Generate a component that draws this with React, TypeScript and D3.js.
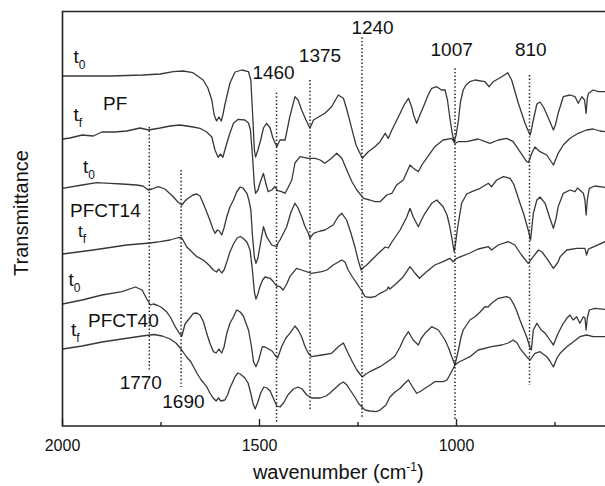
import React from "react";
import * as d3 from "d3";

type Pt = [number, number];

// wavenumber (cm-1), transmittance (offset a.u.)
const PF_t0: Pt[] = [
  [2000,350],[1879,350],[1796,351],[1752,352],[1719,354.3],[1694,355],[1669,353.3],[1643,346],[1631,338],[1621,326],
  [1615,311],[1609,305],[1603,309],[1597,305],[1593,311],[1588,321],[1575,343],[1562,354],[1545,356],[1528,354.3],
  [1522,346],[1518,316],[1513,276],[1510,269],[1504,276],[1497,286],[1490,298],[1482,302.7],[1473,298],[1466,288],
  [1456,279.3],[1448,286],[1435,286],[1423,309.3],[1410,329.3],[1402,326],[1393,316],[1382,306],[1372,297.7],[1363,306],
  [1346,310],[1334,312.7],[1317,319.3],[1300,331],[1287,327.7],[1278,316],[1266,297.7],[1255,281],[1245,272.7],[1239,267.7],
  [1224,274.3],[1207,279.3],[1194,284.3],[1181,292.7],[1173,287.7],[1164,296],[1143,312.7],[1133,321],[1122,327.7],[1114,319.3],
  [1108,310],[1101,302.7],[1093,311],[1084,319.3],[1072,331],[1063,337.7],[1050,339.3],[1038,336],[1029,336],[1023,326],
  [1016,306],[1011,293],[1006,284.3],[1001,291],[995,306],[990,324],[983,336],[976,341],[966,344.3],[953,346],
  [928,344.3],[917,339.3],[907,344.3],[885,349.3],[870,353.3],[860,346],[843,322.7],[826,302.7],[819,296],[813,291],
  [809,298],[805,306],[796,322],[788,324],[778,318],[768,309],[754,296],[749,301],[742,312.7],[729,329.3],
  [712,331],[699,329.3],[691,322.7],[682,329.3],[675,326],[671,312.7],[668,328],[665,332.7],[653,336],[640,334.3],
  [623,334.3],[600,334],
];

const PF_tf: Pt[] = [
  [2000,287],[1981,288],[1950,291],[1922,290],[1900,294],[1867,294],[1837,295],[1803,298],[1782,296],[1752,298],
  [1727,300],[1702,301],[1685,300],[1668,299],[1651,297.7],[1634,294],[1621,289],[1613,276],[1605,268.7],[1599,272],
  [1593,268.7],[1583,282.7],[1575,293],[1566,302.7],[1554,306.7],[1537,306],[1528,303],[1523,296],[1518,271],[1513,241],
  [1510,232.7],[1504,236],[1499,242.7],[1490,252.7],[1484,242.7],[1478,234.3],[1469,236],[1461,239.3],[1454,235.3],[1444,234.3],
  [1435,232.7],[1428,238],[1418,246],[1410,263],[1397,269.3],[1376,267.7],[1359,267.7],[1346,266],[1334,262.7],[1317,267.7],
  [1304,272.7],[1291,267.7],[1275,252.7],[1265,244],[1253,236],[1236,227.7],[1220,226],[1207,224.3],[1194,224.3],[1177,231],
  [1164,232.7],[1152,241],[1135,246],[1126,254],[1118,261],[1110,258],[1097,254.3],[1088,261],[1076,267.7],[1055,279.3],
  [1034,286],[1012,287.7],[1004,282.5],[996,284.3],[974,284.3],[945,287],[915,282.7],[894,286],[873,287.7],[856,284.3],
  [839,274.3],[822,264.3],[817,263.7],[809,272.7],[801,279],[788,274.3],[771,271],[754,261],[742,272.7],[729,281],
  [712,287.7],[691,292.7],[670,296],[653,297],[636,295],[623,294.3],[600,294],
];

const PFCT14_t0: Pt[] = [
  [2000,237.7],[1950,241],[1913,243.3],[1879,242.7],[1849,242],[1812,241],[1796,240],[1782,236],[1773,237],[1757,239.3],
  [1740,237],[1719,229.3],[1707,224],[1697,221],[1689,225],[1681,227.7],[1669,231],[1659,232],[1651,230],[1643,222.7],
  [1633,213],[1626,206],[1618,197],[1613,192.7],[1607,196],[1602,195],[1596,191],[1590,198],[1583,209.3],[1575,219],
  [1566,226],[1558,234],[1549,239],[1542,238],[1532,232.7],[1527,226],[1522,216],[1518,191],[1513,169],[1509,162.7],
  [1504,168],[1499,179.3],[1490,199.3],[1482,189.3],[1469,181],[1456,179.3],[1453,183],[1448,186],[1431,199.3],[1420,214],
  [1410,222.7],[1402,218],[1393,209.3],[1385,200],[1376,192.7],[1372,187.7],[1363,192.7],[1346,195],[1334,196],[1313,201],
  [1301,209],[1291,212.7],[1279,206],[1268,193],[1258,179.3],[1249,165],[1242,156],[1235,159],[1228,161],[1207,169.3],
  [1194,174.3],[1181,179],[1173,178],[1164,184],[1143,196],[1126,209.3],[1118,217.7],[1110,209.3],[1097,199.3],[1089,206],
  [1080,212.7],[1063,222.7],[1050,226],[1034,219.3],[1024,211],[1017,199.3],[1011,186],[1006,174.3],[1003,181],[998,196],
  [992,211],[987,222.7],[974,232],[961,234.3],[940,237.7],[919,242.7],[911,239.3],[898,246],[881,249.3],[864,247.7],
  [855,242],[847,232.7],[839,223],[830,212.7],[818,196],[812,186],[805,212.7],[796,226],[788,229],[775,222.7],
  [763,207.7],[754,197.7],[747,208],[742,219.3],[729,232.7],[712,236],[699,234.3],[693,238],[687,236],[678,232.7],
  [674,226],[671,211],[668,226],[663,237.7],[649,240],[623,238.7],[600,238.5],
];

const PFCT14_tf: Pt[] = [
  [2000,172],[1922,176],[1837,181],[1778,183],[1752,184.3],[1727,186],[1706,188.5],[1697,188],[1685,179.3],[1674,175],
  [1659,169.3],[1643,166],[1634,163],[1626,160],[1617,156],[1609,154],[1603,157],[1596,153],[1590,156],[1583,164],
  [1575,174],[1566,182],[1557,188],[1549,189.5],[1541,187.5],[1532,184],[1524,176],[1518,156],[1513,134],[1509,127],
  [1504,132],[1499,139.3],[1492,146],[1486,149],[1473,147.7],[1464,144],[1457,140],[1448,139.3],[1440,136],[1431,142],
  [1423,149.3],[1406,157.7],[1393,156],[1368,152.7],[1342,154.3],[1329,156],[1313,161],[1291,166],[1283,164],[1275,156],
  [1264,149],[1253,142.7],[1242,136],[1232,129.3],[1220,128.5],[1207,129.3],[1194,132.7],[1177,136],[1173,139],[1169,137],
  [1152,142.7],[1135,149.3],[1118,159.3],[1105,152.7],[1094,147.7],[1076,154.3],[1055,161],[1034,164.3],[1017,167.7],[1008,164.3],
  [1000,167.7],[966,173],[945,177],[919,179.3],[911,176],[894,181],[869,184.3],[852,181],[835,171],[818,162.7],
  [805,169.3],[792,176],[783,174],[771,167.7],[754,157.7],[742,164],[737,169.3],[720,176],[695,177.7],[674,177.7],
  [670,171],[665,177],[661,177.7],[623,184.3],[600,185],
];

const PFCT40_t0: Pt[] = [
  [2000,122],[1950,126],[1900,131],[1849,134.3],[1815,139],[1798,136],[1786,127],[1777,121],[1770,122],[1761,121],
  [1750,119],[1736,114.3],[1725,108],[1714,99.3],[1704,93],[1697,90],[1689,102],[1681,106],[1668,112.7],[1659,113],
  [1651,111],[1642,104],[1634,92.7],[1626,83],[1617,74.3],[1610,73],[1603,77],[1596,73],[1590,79],[1583,92.7],
  [1575,102.7],[1566,109.3],[1558,116],[1549,114],[1541,110],[1528,96],[1521,81],[1515,64],[1509,59.3],[1502,66],
  [1493,79.3],[1486,79],[1477,77],[1468,75],[1461,71],[1454,68],[1444,79.3],[1433,88],[1423,92.7],[1410,100],
  [1402,96],[1393,89.3],[1385,80],[1376,72.7],[1368,69.3],[1342,71],[1317,72.7],[1300,79.3],[1287,83],[1275,72.7],
  [1264,64],[1253,56],[1239,49],[1230,52],[1220,54.3],[1194,59.3],[1169,66],[1156,70],[1143,79.3],[1133,88],
  [1122,94.3],[1110,86],[1097,81],[1089,88],[1080,92.7],[1063,99.3],[1046,96],[1029,86],[1020,78],[1012,69.3],
  [1004,61],[995,76],[989,88],[983,96],[966,106],[953,109.3],[940,114],[928,119.3],[920,119],[911,122.7],
  [894,127.7],[873,129.3],[864,128],[856,122.7],[847,115],[839,106],[822,89.3],[813,78],[810,76],[805,96],
  [796,102.7],[785,96],[775,92.7],[763,86],[754,81],[747,88],[742,92.7],[729,102.7],[720,107.7],[712,111],
  [704,106],[695,109.3],[687,102.7],[678,109.3],[674,108],[671,96],[668,108],[663,116],[649,117.7],[623,116.7],
  [600,116.5],
];

const PFCT40_tf: Pt[] = [
  [2000,77],[1950,80],[1900,84],[1849,87],[1798,90],[1768,91.5],[1747,90],[1727,87],[1712,83],[1699,77],
  [1685,69],[1674,64],[1659,53],[1648,46],[1634,39.3],[1626,33],[1617,27.7],[1610,25],[1604,28],[1598,25],
  [1588,26],[1581,31],[1575,38],[1562,49.3],[1555,53],[1549,52],[1537,48],[1529,43],[1523,34],[1516,22],
  [1511,17],[1505,23],[1497,33],[1489,39],[1481,38],[1473,35],[1464,27],[1456,20],[1448,19],[1439,23],
  [1428,31],[1414,37],[1402,39],[1392,37],[1380,31],[1367,28],[1346,28],[1331,30],[1321,33],[1308,37.7],
  [1296,42],[1287,44],[1278,41],[1270,36],[1258,29],[1249,22.7],[1240,19],[1232,16],[1220,15],[1204,14.3],
  [1194,16],[1179,21],[1169,29],[1156,34],[1143,37.7],[1133,42],[1122,46],[1113,40],[1101,32.7],[1090,35],
  [1080,37.7],[1067,41],[1055,44.3],[1034,44.3],[1024,46],[1017,51],[1009,57],[1004,61],[994,64],[983,66],
  [966,69.3],[945,76],[911,79.3],[885,81],[869,83],[856,86],[846,83],[839,77.7],[822,69.3],[813,66],
  [801,72.7],[788,74.3],[771,69.3],[763,65],[754,59],[745,68],[737,72.7],[720,79.3],[703,84.3],[687,89.3],
  [670,91],[653,89.3],[623,89.3],[600,89.5],
];

// peak markers: label, drawn wavenumber, y from / to
const markerLabels = ["1770", "1690", "1460", "1375", "1240", "1007", "810"];
const markerPos = [1779.7, 1699, 1456.8, 1371.8, 1239.8, 1003.8, 814.7];
const markerTop = [299, 256, 333.3, 346, 388.7, 357.7, 351];
const markerBottom = [56, 39, 3, 16, 9, 6, 41];

const majorTicks = [2000, 1500, 1000];
const minorTicks = [1750, 1250, 750];

const W = 605, H = 486;
const left = 62.5, top = 11.5, bottom = 426, right = 614.1;
const FONT = "'Liberation Sans', Arial, Helvetica, sans-serif";

// layout for texts (pixels)
const markerLabelLayout: Record<string, { dx: number; y: number }> = {
  "1770": { dx: -8.5, y: 389 },
  "1690": { dx: 2.3, y: 408 },
  "1460": { dx: -3, y: 79 },
  "1375": { dx: 10, y: 61.5 },
  "1240": { dx: 10.5, y: 33.5 },
  "1007": { dx: -3.3, y: 56 },
  "810": { dx: 1.3, y: 56 },
};

export default function App() {
  const x = d3.scaleLinear().domain([2000, 600]).range([left, right]);
  const y = d3.scaleLinear().domain([0, bottom - top]).range([bottom, top]);
  const line = d3.line<Pt>().x((d) => x(d[0])).y((d) => y(d[1]));
  const series = [PF_t0, PF_tf, PFCT14_t0, PFCT14_tf, PFCT40_t0, PFCT40_tf];

  const tLabel = (key: string, xx: number, yy: number, sub: string, fs = 19) => (
    <text key={key} x={xx} y={yy} fontSize={fs} fontFamily={FONT} fill="#111">
      t
      <tspan fontSize={12} dy={6}>{sub}</tspan>
    </text>
  );

  return (
    <svg width={W} height={H} style={{ position: "absolute", left: 0, top: 0, background: "#fff" }}>
      <rect x={0} y={0} width={W} height={H} fill="#fff" />
      {series.map((s, i) => (
        <path key={i} d={line(s) || ""} fill="none" stroke="#383838" strokeWidth={1.3} strokeLinejoin="round" />
      ))}
      {markerLabels.map((lab, i) => (
        <g key={lab}>
          <line x1={x(markerPos[i])} x2={x(markerPos[i])} y1={y(markerTop[i])} y2={y(markerBottom[i])}
            stroke="#222" strokeWidth={1.5} strokeDasharray="1.4,2.2" />
          <text x={x(markerPos[i]) + markerLabelLayout[lab].dx} y={markerLabelLayout[lab].y}
            textAnchor="middle" fontSize={19} fontFamily={FONT} fill="#111">{lab}</text>
        </g>
      ))}
      {/* frame */}
      <path d={`M${right},${top}H${left}V${bottom}H${right}`} fill="none" stroke="#222" strokeWidth={1.6} />
      {majorTicks.map((t) => (
        <g key={t}>
          <line x1={x(t)} x2={x(t)} y1={bottom} y2={bottom - 7} stroke="#222" strokeWidth={1.4} />
          <text x={x(t)} y={451} textAnchor="middle" fontSize={16} fontFamily={FONT} fill="#111">{t}</text>
        </g>
      ))}
      {minorTicks.map((t) => (
        <line key={t} x1={x(t)} x2={x(t)} y1={bottom} y2={bottom - 4} stroke="#222" strokeWidth={1.4} />
      ))}
      <text x={(left + right) / 2} y={479} textAnchor="middle" fontSize={20} fontFamily={FONT} fill="#111">
        wavenumber (cm<tspan fontSize={12} dy={-8}>-1</tspan><tspan dy={8}>)</tspan>
      </text>
      <text transform={`translate(28,213) rotate(-90)`} textAnchor="middle" fontSize={20} fontFamily={FONT} fill="#111">
        Transmittance
      </text>
      {/* series labels */}
      {tLabel("a", 73.5, 63, "0")}
      <text x={103} y={110} fontSize={19} fontFamily={FONT} fill="#111">PF</text>
      {tLabel("b", 73.5, 121, "f")}
      {tLabel("c", 83, 173, "0")}
      <text x={70} y={216.5} fontSize={19} fontFamily={FONT} fill="#111">PFCT14</text>
      {tLabel("d", 78, 236.5, "f", 17)}
      {tLabel("e", 68.5, 286, "0")}
      <text x={88} y={326.5} fontSize={19} fontFamily={FONT} fill="#111">PFCT40</text>
      {tLabel("f", 71, 336, "f")}
    </svg>
  );
}
